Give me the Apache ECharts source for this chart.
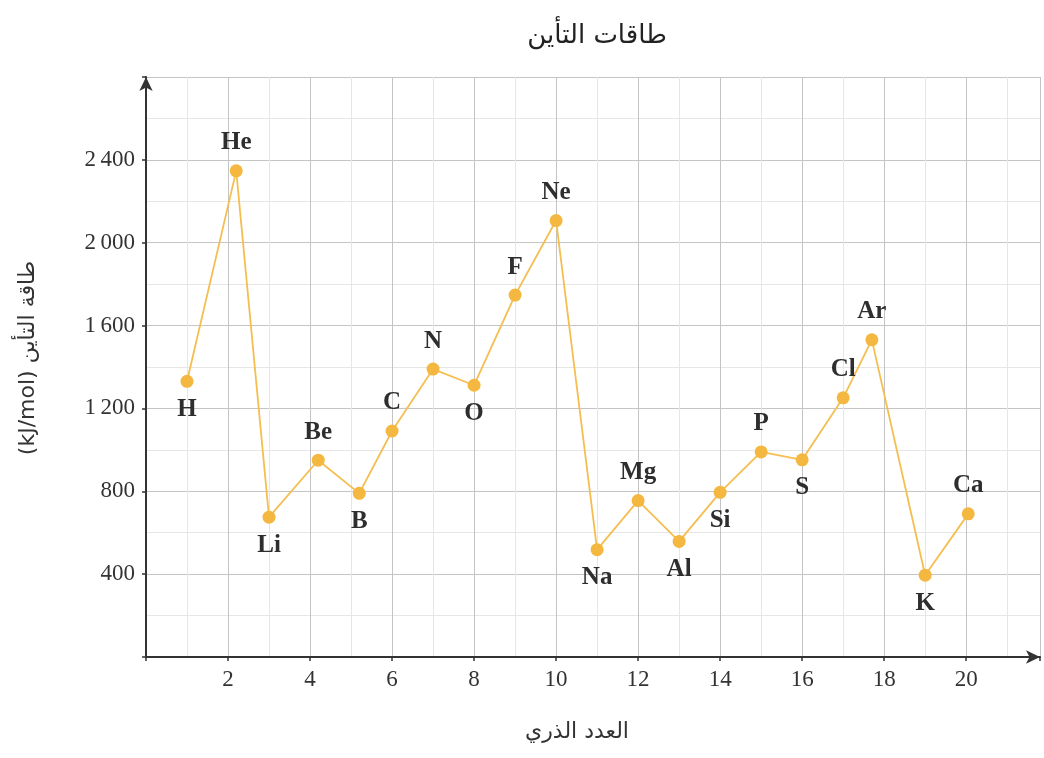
<!DOCTYPE html>
<html>
<head>
<meta charset="utf-8">
<script src="https://cdn.jsdelivr.net/npm/echarts@6/dist/echarts.min.js"></script>
<style>
html,body{margin:0;padding:0;background:#fff;}
#chart{width:1044px;height:758px;}
</style>
</head>
<body>
<div id="chart"></div>
<script>
const elements = ['H','He','Li','Be','B','C','N','O','F','Ne','Na','Mg','Al','Si','P','S','Cl','Ar','K','Ca'];
const xPos = [1, 2.2, 3, 4.2, 5.2, 6, 7, 8, 9, 10, 11, 12, 13, 14, 15, 16, 17, 17.7, 19, 20.05];
const energy = [1331, 2347, 675, 950, 790, 1091, 1390, 1312, 1747, 2107, 518, 755, 558, 795, 990, 952, 1251, 1531, 395, 691];
const labelSide = ['bottom','top','bottom','top','bottom','top','top','bottom','top','top','bottom','top','bottom','bottom','top','bottom','top','top','bottom','top'];
const xTickValues = [2, 4, 6, 8, 10, 12, 14, 16, 18, 20];
const xTickLabels = ['2','4','6','8','10','12','14','16','18','20'];
const yTickValues = [400, 800, 1200, 1600, 2000, 2400];
const yTickLabels = ['400','800','1\u2009200','1\u2009600','2\u2009000','2\u2009400'];
const titleText = 'طاقات التأين';
const xName = 'العدد الذري';
const yName = '(kJ/mol) طاقة التأين';

const chart = echarts.init(document.getElementById('chart'));
const gridColors = ['#c4c4c4', '#e6e6e6'];
const serif = 'Liberation Serif';

chart.setOption({
  backgroundColor: '#ffffff',
  animation: false,
  graphic: [{
    type: 'text', x: 597, y: 36,
    style: {text: titleText, fontFamily: 'DejaVu Sans', fontSize: 26, fill: '#222',
      textAlign: 'center', textVerticalAlign: 'middle'}
  }],
  grid: {left: 146, right: 4, top: 77, bottom: 101},
  xAxis: [
    {
      type: 'value', min: 0, max: 21.8, interval: 1,
      axisLine: {show: false}, axisTick: {show: false}, axisLabel: {show: false},
      splitLine: {show: true, lineStyle: {color: gridColors, width: 1}}
    },
    {
      type: 'value', min: 0, max: 21.8, interval: 2, position: 'bottom',
      name: xName, nameLocation: 'middle', nameGap: 64,
      nameTextStyle: {fontFamily: 'DejaVu Sans', fontSize: 22, color: '#333', padding: [0, 32, 0, 0]},
      axisLine: {show: true, onZero: false, symbol: ['none', 'arrow'], symbolSize: [10, 14],
        lineStyle: {color: '#333', width: 2}},
      axisTick: {show: true, length: 4, lineStyle: {color: '#333', width: 1.5}},
      axisLabel: {
        margin: 11, fontFamily: serif, fontSize: 23, color: '#333',
        formatter: v => { const i = xTickValues.indexOf(v); return i >= 0 ? xTickLabels[i] : ''; }
      },
      splitLine: {show: false}
    }
  ],
  yAxis: [
    {
      type: 'value', min: 0, max: 2800, interval: 200,
      axisLine: {show: false}, axisTick: {show: false}, axisLabel: {show: false},
      splitLine: {show: true, lineStyle: {color: gridColors, width: 1}}
    },
    {
      type: 'value', min: 0, max: 2800, interval: 400, position: 'left',
      name: yName, nameLocation: 'middle', nameGap: 107, nameRotate: 90,
      nameTextStyle: {fontFamily: 'DejaVu Sans', fontSize: 22, color: '#333', padding: [0, 0, 0, 18]},
      axisLine: {show: true, onZero: false, symbol: ['none', 'arrow'], symbolSize: [10, 14],
        lineStyle: {color: '#333', width: 2}},
      axisTick: {show: true, length: 4, lineStyle: {color: '#333', width: 1.5}},
      axisLabel: {
        margin: 11, fontFamily: serif, fontSize: 23, color: '#333',
        formatter: v => { const i = yTickValues.indexOf(v); return i >= 0 ? yTickLabels[i] : ''; }
      },
      splitLine: {show: false}
    }
  ],
  series: [{
    type: 'line',
    xAxisIndex: 0, yAxisIndex: 0,
    data: xPos.map((x, i) => ({value: [x, energy[i]], name: elements[i], label: {position: labelSide[i]}})),
    symbol: 'circle', symbolSize: 13,
    itemStyle: {color: '#F4B73F'},
    lineStyle: {color: '#F5BE50', width: 1.8},
    label: {
      show: true, distance: 9,
      formatter: p => p.name,
      fontFamily: serif, fontSize: 25, fontWeight: 'bold', color: '#2e2e2e'
    },
    z: 5
  }]
});
</script>
</body>
</html>
